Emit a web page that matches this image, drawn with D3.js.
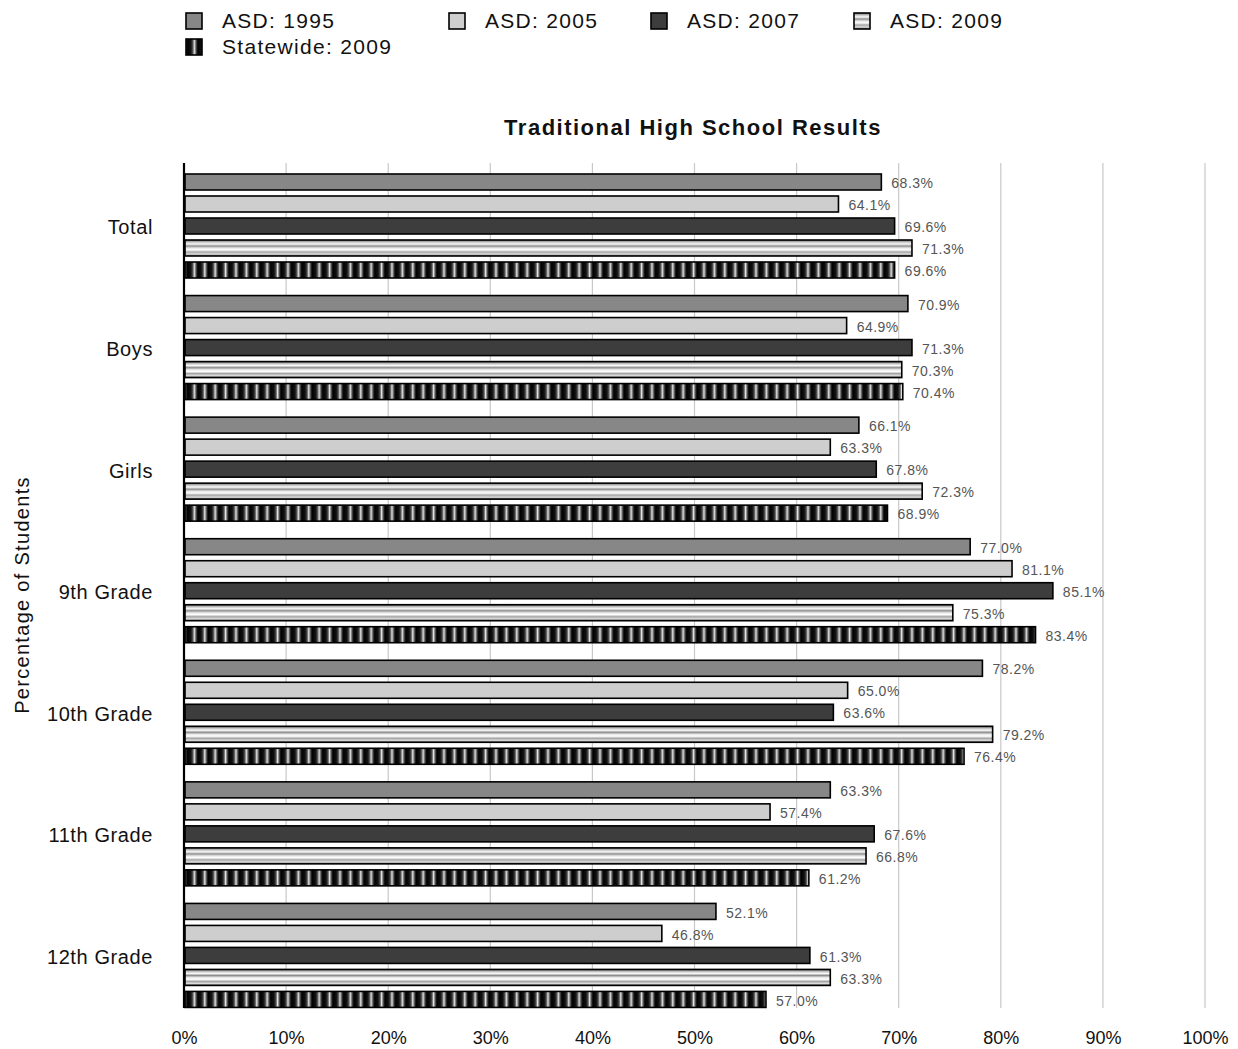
<!DOCTYPE html>
<html><head><meta charset="utf-8">
<script src="https://cdn.jsdelivr.net/npm/d3@7"></script>
<style>body{margin:0;background:#fff}svg{display:block;font-family:"Liberation Sans",Arial,Helvetica,sans-serif}</style>
</head><body><svg id="c" width="1238" height="1049"></svg>
<script>
const categories = ["Total","Boys","Girls","9th Grade","10th Grade","11th Grade","12th Grade"];
const seriesNames = ["ASD: 1995","ASD: 2005","ASD: 2007","ASD: 2009","Statewide: 2009"];
const asd1995 = [68.3,70.9,66.1,77.0,78.2,63.3,52.1];
const asd2005 = [64.1,64.9,63.3,81.1,65.0,57.4,46.8];
const asd2007 = [69.6,71.3,67.8,85.1,63.6,67.6,61.3];
const asd2009 = [71.3,70.3,72.3,75.3,79.2,66.8,63.3];
const state2009 = [69.6,70.4,68.9,83.4,76.4,61.2,57.0];
const xTicks = [0,10,20,30,40,50,60,70,80,90,100];
const seriesValues = [asd1995,asd2005,asd2007,asd2009,state2009];

const svg = d3.select("#c");
const defs = svg.append("defs");
const hg = defs.append("linearGradient").attr("id","hstripe").attr("x1",0).attr("y1",0).attr("x2",0).attr("y2",1);
[[0,"#5e5e5e"],[0.12,"#bdbdbd"],[0.25,"#fafafa"],[0.38,"#8e8e8e"],[0.5,"#e6e6e6"],[0.62,"#ffffff"],[0.75,"#a5a5a5"],[0.88,"#dcdcdc"],[1,"#6a6a6a"]]
  .forEach(([o,c])=>hg.append("stop").attr("offset",o).attr("stop-color",c));
const vg = defs.append("linearGradient").attr("id","vgrad").attr("x1",0).attr("y1",0).attr("x2",1).attr("y2",0);
[[0,"#000"],[0.35,"#111"],[0.55,"#555"],[0.7,"#f4f4f4"],[0.8,"#777"],[1,"#000"]]
  .forEach(([o,c])=>vg.append("stop").attr("offset",o).attr("stop-color",c));
const pat = defs.append("pattern").attr("id","vstripe").attr("patternUnits","userSpaceOnUse")
  .attr("width",10.4).attr("height",20).attr("x",0);
pat.append("rect").attr("width",10.4).attr("height",20).attr("fill","url(#vgrad)");

const fills = ["#878787","#cdcecd","#3c3d3c","url(#hstripe)","url(#vstripe)"];

const x = d3.scaleLinear().domain([0,100]).range([184,1205]);
const y = d3.scaleBand().domain(categories).range([157,1008]).paddingInner(0).paddingOuter(0);
const yi = d3.scaleBand().domain(seriesNames).range([17,121]).paddingInner(6/22).paddingOuter(0);

svg.append("g").selectAll("line").data(xTicks.filter(d=>d>0)).join("line")
  .attr("x1",d=>x(d)).attr("x2",d=>x(d)).attr("y1",163).attr("y2",1008)
  .attr("stroke","#c8c8c8").attr("stroke-width",1.2);

const xAxis = d3.axisBottom(x).tickValues(xTicks).tickFormat(d=>d+"%").tickSize(0).tickPadding(0);
const xg = svg.append("g").attr("transform","translate(0,1044)").call(xAxis);
xg.select(".domain").remove();
xg.selectAll("text").attr("font-size",18).attr("fill","#111").attr("dy",0).attr("font-family","Liberation Sans, Arial, sans-serif");

const groups = svg.append("g").selectAll("g").data(categories).join("g")
  .attr("transform",d=>`translate(0,${y(d)})`);
seriesNames.forEach((s,si)=>{
  groups.append("rect")
    .attr("x",x(0)+1).attr("y",yi(s))
    .attr("width",(d,i)=>x(seriesValues[si][i])-x(0)-1)
    .attr("height",yi.bandwidth())
    .attr("fill",fills[si]).attr("stroke","#000").attr("stroke-width",1.6);
  groups.append("text")
    .attr("x",(d,i)=>x(seriesValues[si][i])+10)
    .attr("y",yi(s)+yi.bandwidth()/2+2.5)
    .attr("dominant-baseline","middle")
    .attr("font-size",14).attr("letter-spacing",0.5).attr("fill","#555")
    .text((d,i)=>seriesValues[si][i].toFixed(1)+"%");
});

svg.append("line").attr("x1",x(0)).attr("x2",x(0)).attr("y1",163).attr("y2",1008).attr("stroke","#000").attr("stroke-width",2.2);

const yAxis = d3.axisLeft(y).tickSize(0).tickPadding(0);
const yg = svg.append("g").attr("transform","translate(153,0)").call(yAxis);
yg.select(".domain").remove();
yg.selectAll("text").attr("font-size",20).attr("letter-spacing",0.6).attr("fill","#111").attr("font-family","Liberation Sans, Arial, sans-serif")
  .attr("text-anchor","end").attr("transform",`translate(0,${-(121.6/2)+ (17+2*22+10) })`);

svg.append("text").attr("transform","translate(29,595) rotate(-90)").attr("text-anchor","middle")
  .attr("font-size",20).attr("letter-spacing",1.3).attr("fill","#111").text("Percentage of Students");

svg.append("text").attr("x",693).attr("y",135).attr("text-anchor","middle")
  .attr("font-size",22).attr("letter-spacing",1.5).attr("font-weight","bold").attr("fill","#111").text("Traditional High School Results");

const legPos = [[185,12],[448,12],[650,12],[853,12],[185,38]];
const lg = svg.append("g");
seriesNames.forEach((s,i)=>{
  const [lx,ly] = legPos[i];
  lg.append("rect").attr("x",lx+1).attr("y",ly+1).attr("width",16).attr("height",16)
    .attr("fill",fills[i]).attr("stroke","#000").attr("stroke-width",1.6);
  lg.append("text").attr("x",lx+37).attr("y",ly+16).attr("font-size",21).attr("letter-spacing",1.3).attr("fill","#111").text(s);
});
</script></body></html>
